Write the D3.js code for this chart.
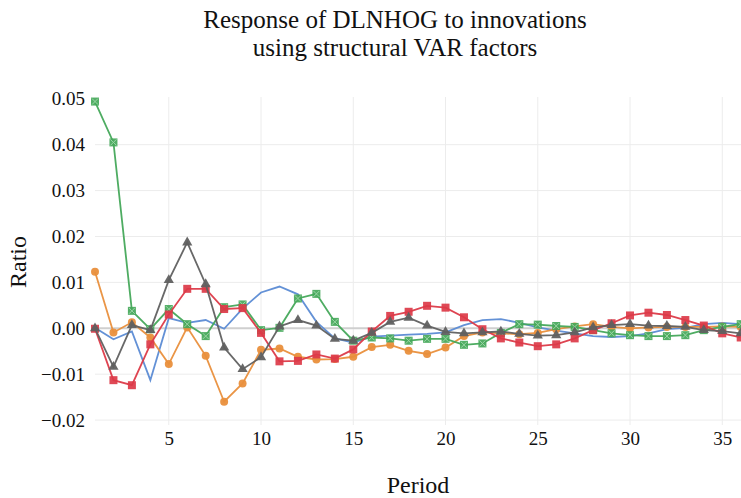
<!DOCTYPE html>
<html>
<head>
<meta charset="utf-8">
<script src="https://cdn.jsdelivr.net/npm/d3@7"></script>
<style>
  body { margin: 0; background: #fff; }
  svg { display: block; }
  text { font-family: "Liberation Serif", "Times New Roman", serif; fill: #111; }
</style>
</head>
<body>
<div id="chart"></div>
<script>
(function () {
  'use strict';

  var periods = [1, 2, 3, 4, 5, 6, 7, 8, 9, 10, 11, 12, 13, 14, 15, 16, 17, 18,
    19, 20, 21, 22, 23, 24, 25, 26, 27, 28, 29, 30, 31, 32, 33, 34, 35, 36];

  var blueVals = [0.0001, -0.0024, -0.0007, -0.0113, 0.0022, 0.0012, 0.0018, -0.0001, 0.0043, 0.0078,
    0.0091, 0.0074, 0.0014, -0.0022, -0.0031, -0.0018, -0.0016, -0.0014, -0.0012, -0.0009,
    0.0007, 0.0018, 0.0020, 0.0012, 0.0002, -0.0005, -0.0011, -0.0017, -0.0019, -0.0017,
    -0.0011, -0.0002, 0.0001, 0.0009, 0.0012, 0.0009];

  var orangeVals = [0.0123, -0.0009, 0.0013, -0.0020, -0.0078, 0.0002, -0.0060, -0.0160, -0.0120, -0.0047,
    -0.0044, -0.0062, -0.0068, -0.0067, -0.0062, -0.0041, -0.0036, -0.0049, -0.0056, -0.0042,
    -0.0017, -0.0009, -0.0011, -0.0013, -0.0010, -0.0002, 0.0004, 0.0009, 0.0003, 0.0000,
    0.0002, 0.0003, 0.0003, 0.0003, 0.0004, 0.0003];

  var greenVals = [0.0494, 0.0405, 0.0038, -0.0002, 0.0042, 0.0009, -0.0017, 0.0046, 0.0052, -0.0004,
    0.0001, 0.0065, 0.0075, 0.0014, -0.0027, -0.0020, -0.0022, -0.0027, -0.0023, -0.0023,
    -0.0036, -0.0033, -0.0010, 0.0009, 0.0008, 0.0005, 0.0003, -0.0004, -0.0011, -0.0015,
    -0.0017, -0.0017, -0.0015, -0.0004, 0.0003, 0.0009];

  var redVals = [-0.0001, -0.0113, -0.0124, -0.0035, 0.0030, 0.0086, 0.0086, 0.0042, 0.0044, -0.0010,
    -0.0072, -0.0071, -0.0057, -0.0066, -0.0046, -0.0007, 0.0027, 0.0036, 0.0049, 0.0045,
    0.0024, -0.0002, -0.0022, -0.0031, -0.0039, -0.0035, -0.0022, -0.0004, 0.0011, 0.0028,
    0.0034, 0.0029, 0.0018, 0.0006, -0.0011, -0.0020];

  var grayVals = [0.0000, -0.0084, 0.0007, -0.0004, 0.0105, 0.0187, 0.0096, -0.0042, -0.0089, -0.0063,
    0.0004, 0.0018, 0.0006, -0.0023, -0.0027, -0.0010, 0.0014, 0.0023, 0.0006, -0.0008,
    -0.0011, -0.0009, -0.0007, -0.0012, -0.0016, -0.0015, -0.0009, 0.0002, 0.0007, 0.0009,
    0.0006, 0.0005, 0.0003, -0.0004, -0.0006, -0.0011];

  var xTicks = [5, 10, 15, 20, 25, 30, 35];
  var yTicks = [-0.02, -0.01, 0, 0.01, 0.02, 0.03, 0.04, 0.05];

  var series = [
    { name: 'blue', values: blueVals, color: '#5b8bd4', marker: 'none' },
    { name: 'orange', values: orangeVals, color: '#e98f3c', marker: 'circle' },
    { name: 'green', values: greenVals, color: '#45a85a', marker: 'squarex' },
    { name: 'red', values: redVals, color: '#dc3a48', marker: 'square' },
    { name: 'gray', values: grayVals, color: '#606060', marker: 'triangle' }
  ];

  var w = 741, h = 498;
  var left = 95, right = 741, top = 97, bottom = 425;

  var svg = d3.select('#chart').append('svg').attr('width', w).attr('height', h);

  var x = d3.scaleLinear().domain([1, 36]).range([95, 740.7]);
  var y = d3.scaleLinear().domain([-0.02, 0.05]).range([420.1, 98.8]);

  // grid
  svg.append('g').selectAll('line.vg').data(xTicks).enter().append('line')
    .attr('x1', function (d) { return x(d); }).attr('x2', function (d) { return x(d); })
    .attr('y1', top).attr('y2', bottom)
    .attr('stroke', '#ececec').attr('stroke-width', 1);
  svg.append('g').selectAll('line.hg').data(yTicks.filter(function (d) { return d !== 0 && d < 0.05; })).enter().append('line')
    .attr('x1', left).attr('x2', right)
    .attr('y1', function (d) { return y(d); }).attr('y2', function (d) { return y(d); })
    .attr('stroke', '#ececec').attr('stroke-width', 1);
  svg.append('line')
    .attr('x1', left).attr('x2', right).attr('y1', y(0)).attr('y2', y(0))
    .attr('stroke', '#cfcfcf').attr('stroke-width', 2);

  // axes (labels only)
  var yAxis = d3.axisLeft(y).tickValues(yTicks).tickSize(0).tickPadding(0)
    .tickFormat(function (d) { return d3.format('.2f')(d); });
  var gy = svg.append('g').attr('transform', 'translate(85,0)').call(yAxis);
  gy.select('.domain').remove();
  gy.selectAll('text').attr('font-size', 19).attr('font-family', '"Liberation Serif", serif').attr('fill', '#111');

  var xAxis = d3.axisBottom(x).tickValues(xTicks).tickSize(0).tickPadding(0);
  var gx = svg.append('g').attr('transform', 'translate(0,431)').call(xAxis);
  gx.select('.domain').remove();
  gx.selectAll('text').attr('font-size', 19).attr('font-family', '"Liberation Serif", serif').attr('fill', '#111');

  // lines
  var line = d3.line()
    .x(function (d, i) { return x(periods[i]); })
    .y(function (d) { return y(d); });

  series.forEach(function (s) {
    var g = svg.append('g').attr('class', 'series ' + s.name);
    g.append('path').datum(s.values)
      .attr('d', line).attr('fill', 'none')
      .attr('stroke', s.color).attr('stroke-width', 1.8).attr('stroke-opacity', 0.95);

    var pts = g.selectAll('.pt').data(s.values).enter();
    if (s.marker === 'circle') {
      pts.append('circle')
        .attr('cx', function (d, i) { return x(periods[i]); })
        .attr('cy', function (d) { return y(d); })
        .attr('r', 4).attr('fill', s.color).attr('fill-opacity', 0.95);
    } else if (s.marker === 'square' || s.marker === 'squarex') {
      pts.append('rect')
        .attr('x', function (d, i) { return x(periods[i]) - 4; })
        .attr('y', function (d) { return y(d) - 4; })
        .attr('width', 8).attr('height', 8)
        .attr('fill', s.color).attr('fill-opacity', 0.92);
      if (s.marker === 'squarex') {
        pts.append('path')
          .attr('d', function (d, i) {
            var cx = x(periods[i]), cy = y(d);
            return 'M' + (cx - 3) + ',' + (cy - 3) + 'L' + (cx + 3) + ',' + (cy + 3) +
              'M' + (cx + 3) + ',' + (cy - 3) + 'L' + (cx - 3) + ',' + (cy + 3);
          })
          .attr('stroke', '#9bd5a6').attr('stroke-width', 1);
      }
    } else if (s.marker === 'triangle') {
      var tri = d3.symbol().type(d3.symbolTriangle).size(45);
      pts.append('path')
        .attr('d', tri)
        .attr('transform', function (d, i) { return 'translate(' + x(periods[i]) + ',' + y(d) + ')'; })
        .attr('fill', s.color).attr('fill-opacity', 0.95);
    }
  });

  // titles
  var title = svg.append('text').attr('text-anchor', 'middle').attr('font-size', 25);
  title.append('tspan').attr('x', 395).attr('y', 28).text('Response of DLNHOG to innovations');
  title.append('tspan').attr('x', 395).attr('y', 56).text('using structural VAR factors');

  svg.append('text').attr('text-anchor', 'middle').attr('font-size', 24)
    .attr('x', 418).attr('y', 493).text('Period');

  svg.append('text').attr('text-anchor', 'middle').attr('font-size', 24)
    .attr('transform', 'translate(26,262) rotate(-90)').text('Ratio');
})();
</script>
</body>
</html>
